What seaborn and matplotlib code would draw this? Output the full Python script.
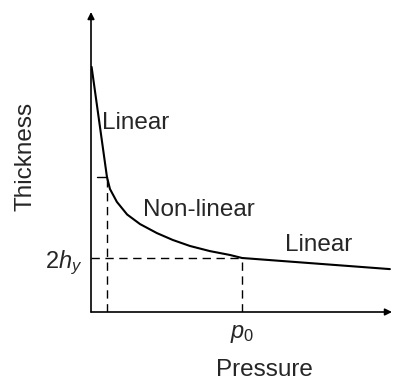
import numpy as np
import pandas as pd
import seaborn as sns
import matplotlib.pyplot as plt

# curve (arbitrary units)
pressure = [0.02, 0.53, 0.63, 0.86, 1.20, 1.63, 2.19, 2.72, 3.29, 3.95, 4.62, 5.02, 9.93]
thickness = [8.17, 4.50, 4.10, 3.67, 3.25, 2.93, 2.63, 2.40, 2.20, 2.03, 1.90, 1.80, 1.43]
knee_p, knee_t = 0.53, 4.50
p0, two_hy = 5.02, 1.80

sns.set_style("white")
plt.rcParams['font.family'] = ['Liberation Sans', 'DejaVu Sans']
plt.rcParams['mathtext.fontset'] = 'custom'
plt.rcParams['mathtext.rm'] = 'Liberation Sans'
plt.rcParams['mathtext.it'] = 'Liberation Sans:italic'

df = pd.DataFrame({'Pressure': pressure, 'Thickness': thickness})

fig = plt.figure(figsize=(3.93, 3.82), dpi=100)
ax = fig.add_axes([91 / 393, 70 / 382, 301 / 393, 300 / 382])
sns.lineplot(data=df, x='Pressure', y='Thickness', color='black', lw=1.5, ax=ax)
ax.set_xlim(0, 10)
ax.set_ylim(0, 10)

dash = dict(color='black', lw=1, ls=(0, (6, 4)))
ax.plot([0, p0], [two_hy, two_hy], **dash)
ax.plot([p0, p0], [0, two_hy], **dash)
ax.plot([knee_p, knee_p], [0, knee_t], **dash)
ax.plot([0.2, knee_p], [knee_t, knee_t], color='black', lw=1)

for s in ax.spines.values():
    s.set_visible(False)
arrow = dict(arrowstyle='-|>', color='black', lw=1.2, mutation_scale=10, shrinkA=0, shrinkB=0)
ax.annotate('', xy=(1, 0), xytext=(0, 0), xycoords='axes fraction', arrowprops=arrow)
ax.annotate('', xy=(0, 1), xytext=(0, 0), xycoords='axes fraction', arrowprops=arrow)

ax.set_xticks([p0], [r'$p_0$'])
ax.set_yticks([two_hy], [r'$2h_y$'])
ax.tick_params(axis='x', length=0, labelsize=17, pad=8)
ax.tick_params(axis='y', length=0, labelsize=17, pad=6)

ax.set_xlabel('Pressure', fontsize=17.5, va='center')
ax.set_ylabel('Thickness', fontsize=17.5, va='center')
ax.xaxis.set_label_coords(0.575, -0.195)
ax.yaxis.set_label_coords(-0.219, 0.52)

ax.text(0.37, 6.3, 'Linear', fontsize=17.5, va='center')
ax.text(1.73, 3.4, 'Non-linear', fontsize=17.5, va='center')
ax.text(6.45, 2.23, 'Linear', fontsize=17.5, va='center')

fig.savefig('out.png', dpi=100)
